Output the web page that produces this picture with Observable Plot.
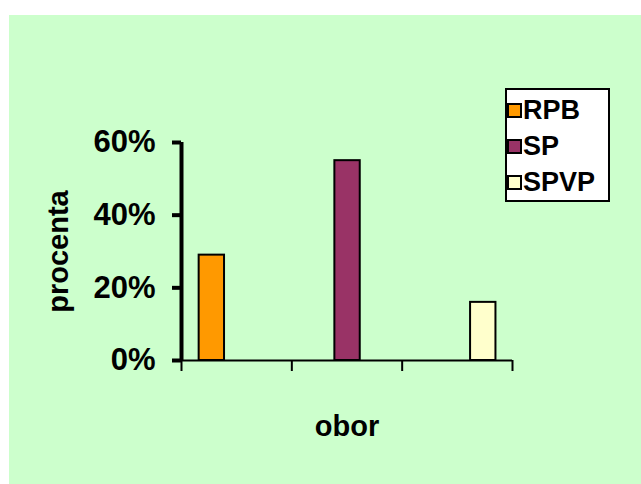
<!DOCTYPE html>
<html>
<head>
<meta charset="utf-8">
<script src="https://cdn.jsdelivr.net/npm/d3@7"></script>
<script src="https://cdn.jsdelivr.net/npm/@observablehq/plot@0.6"></script>
<style>
  html, body { margin: 0; padding: 0; background: #ffffff; }
  #wrap { position: relative; width: 641px; height: 484px; background: #ffffff; overflow: hidden; }
  #chart { position: absolute; left: 9px; top: 15px; }
  #chart g[aria-label^="y-axis"] line, #chart g[aria-label^="y-axis"] path { stroke-width: 4px; }
  #chart g[aria-label^="x-axis"] line, #chart g[aria-label^="x-axis"] path { stroke-width: 2px; }
  #legend { position: absolute; left: 505px; top: 88px; width: 105px; height: 114px; box-sizing: border-box;
            border: 2px solid #000; background: #fff; padding: 2px 0 0 1px; }
  #legend .lg-swatches { font-family: "Liberation Sans", Arial, sans-serif !important; font-size: 27px !important;
            font-weight: bold !important; margin: 0 !important; color: #000; }
  #legend .lg-swatch { height: 36px; display: flex; align-items: center; padding: 0 !important; }
  #legend .lg-swatch > svg { margin-right: 2px !important; }
  #legend .lg-swatch rect { stroke: #000; stroke-width: 2px; }
</style>
</head>
<body>
<div id="wrap">
  <div id="chart"></div>
  <div id="legend"></div>
</div>
<script>
// ---- data ----
const series = ["RPB", "SP", "SPVP"];
const values = [0.29, 0.55, 0.16];
const categoryOf = [0, 1, 2];          // category slot each series sits in
const categoryCount = 3;
const yTicks = [0, 0.2, 0.4, 0.6];
const xLabel = "obor";
const yLabel = "procenta";

// ---- styles ----
const colors = ["#FF9900", "#993366", "#FFFFCC"];
const groupPad = 0.16;   // fraction of a category left empty before the group
const barSpan = 0.23;    // fraction of a category per bar

const rows = series.map((s, i) => ({
  series: s,
  value: values[i],
  x1: categoryOf[i] + groupPad + i * barSpan,
  x2: categoryOf[i] + groupPad + (i + 1) * barSpan
}));
const catEdges = d3.range(categoryCount + 1);

const chart = Plot.plot({
  width: 632,
  height: 469,
  marginLeft: 172,
  marginRight: 129,
  marginTop: 127,
  marginBottom: 124,
  style: {
    background: "#CCFFCC",
    fontFamily: "'Liberation Sans', Arial, sans-serif",
    fontSize: "31px",
    fontWeight: "bold",
    color: "#000"
  },
  x: {
    type: "linear",
    domain: [0, categoryCount],
    ticks: catEdges,
    tickFormat: () => "",
    tickSize: 11,
    label: null
  },
  y: {
    domain: [0, 0.6],
    ticks: yTicks,
    tickFormat: d3.format(".0%"),
    tickSize: 9,
    tickPadding: 17,
    label: null
  },
  color: { domain: series, range: colors },
  marks: [
    Plot.rect(rows, { x1: "x1", x2: "x2", y1: 0, y2: "value", fill: "series", stroke: "#000", strokeWidth: 2 }),
    Plot.ruleY([0], { stroke: "#000", strokeWidth: 2 }),
    Plot.ruleX([0], { stroke: "#000", strokeWidth: 4 }),
    Plot.text([yLabel], { frameAnchor: "left", textAnchor: "middle", rotate: -90, dx: -114, lineAnchor: "bottom", fontSize: 29, fontWeight: "bold", fill: "#000" }),
    Plot.text([xLabel], { frameAnchor: "bottom", textAnchor: "middle", dy: 75, lineAnchor: "bottom", fontSize: 29, fontWeight: "bold", fill: "#000" })
  ]
});
document.getElementById("chart").appendChild(chart);

const legend = Plot.legend({
  color: { domain: series, range: colors },
  columns: 1,
  swatchSize: 13,
  className: "lg"
});
document.getElementById("legend").appendChild(legend);
</script>
</body>
</html>
